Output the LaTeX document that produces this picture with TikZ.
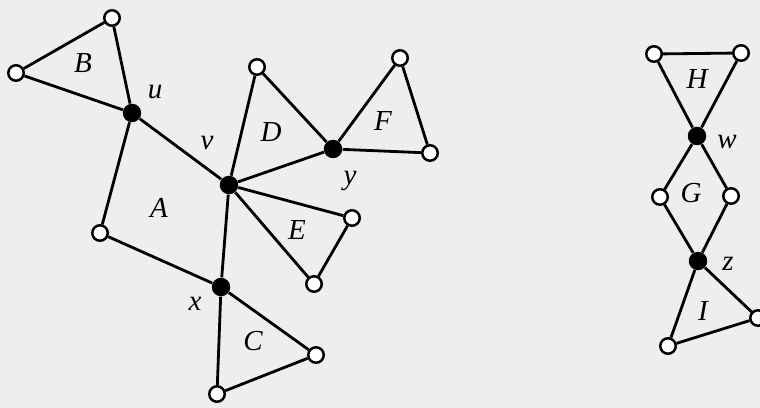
\documentclass[tikz,border=0pt]{standalone}
\usepackage{fontspec}
\setmainfont{Liberation Serif}
\definecolor{paper}{RGB}{238,238,236}
\begin{document}
\begin{tikzpicture}[x=0.02cm,y=-0.02cm,
  wv/.style={circle,draw,fill=white,line width=1.4pt,minimum size=0.31cm,inner sep=0pt},
  bv/.style={circle,fill=black,minimum size=0.37cm,inner sep=0pt},
  edge/.style={line width=1.6pt},
  lab/.style={font=\fontsize{16.5}{18}\selectfont\itshape,inner sep=0pt}]
\fill[paper] (0,0) rectangle (760,408);
\useasboundingbox (0,0) rectangle (760,408);
% vertices left graph
\node[bv] (u) at (132,113) {};
\node[bv] (v) at (229,185) {};
\node[bv] (x) at (221,287) {};
\node[bv] (y) at (333,149) {};
\node[wv] (b1) at (112,18) {};
\node[wv] (b2) at (16,73) {};
\node[wv] (a1) at (100,233) {};
\node[wv] (d1) at (257,67) {};
\node[wv] (f1) at (400,58) {};
\node[wv] (f2) at (430,153) {};
\node[wv] (e1) at (352,218) {};
\node[wv] (e2) at (314,284) {};
\node[wv] (c1) at (316,355) {};
\node[wv] (c2) at (217,394) {};
% right graph
\node[bv] (w) at (697,136) {};
\node[bv] (z) at (698,261) {};
\node[wv] (h1) at (654,54) {};
\node[wv] (h2) at (741,53) {};
\node[wv] (g1) at (660,197) {};
\node[wv] (g2) at (731,196) {};
\node[wv] (i1) at (668,346) {};
\node[wv] (i2) at (758,318) {};
% edges
\draw[edge] (b1) -- (b2) -- (u) -- (b1);
\draw[edge] (u) -- (v) -- (x) -- (a1) -- (u);
\draw[edge] (v) -- (d1) -- (y) -- (v);
\draw[edge] (y) -- (f1) -- (f2) -- (y);
\draw[edge] (v) -- (e1) -- (e2) -- (v);
\draw[edge] (x) -- (c1) -- (c2) -- (x);
\draw[edge] (h1) -- (h2) -- (w) -- (h1);
\draw[edge] (w) -- (g1) -- (z) -- (g2) -- (w);
\draw[edge] (z) -- (i1) -- (i2) -- (z);
% labels
\node[lab] (lB) at (83,63) {B};
\node[lab] (lu) at (155,92) {u};
\node[lab] (lv) at (207,143) {v};
\node[lab] (lA) at (159,208) {A};
\node[lab] (lD) at (271,132) {D};
\node[lab] (lF) at (383,121) {F};
\node[lab] (ly) at (350,181) {y};
\node[lab] (lE) at (297,230) {E};
\node[lab] (lx) at (195,304) {x};
\node[lab] (lC) at (253,341) {C};
\node[lab] (lH) at (697,79) {H};
\node[lab] (lw) at (727,142) {w};
\node[lab] (lG) at (691,193) {G};
\node[lab] (lz) at (728,264) {z};
\node[lab] (lI) at (703,311) {I};
\end{tikzpicture}
\end{document}
